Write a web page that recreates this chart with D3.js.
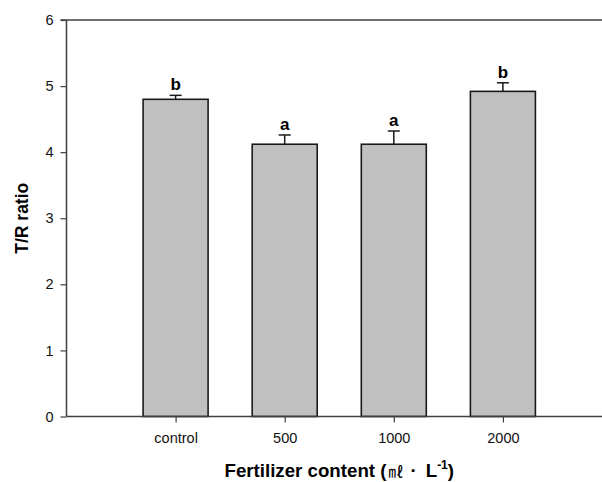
<!DOCTYPE html>
<html>
<head>
<meta charset="utf-8">
<script src="https://cdn.jsdelivr.net/npm/d3@7"></script>
<style>
  body { margin: 0; background: #fff; }
  svg { display: block; font-family: "Liberation Sans", Arial, sans-serif; }
</style>
</head>
<body>
<div id="chart"></div>
<script>
// data
const categories = ["control", "500", "1000", "2000"];
const ratios = [4.80, 4.12, 4.12, 4.92];
const errors = [0.06, 0.14, 0.20, 0.13];
const letters = ["b", "a", "a", "b"];
const yTicks = [0, 1, 2, 3, 4, 5, 6];

const width = 602, height = 482;
const plot = { left: 66.5, right: 612, top: 20, bottom: 416.5 };

const svg = d3
  .select("#chart")
  .append("svg")
  .attr("width", width)
  .attr("height", height);

const x = d3
  .scalePoint()
  .domain(categories)
  .range([plot.left, plot.right])
  .padding(1);

const y = d3.scaleLinear().domain([0, 6]).range([plot.bottom, plot.top]);

const barW = 65;
const axisColor = "#404040";

// bars
svg
  .selectAll("rect.bar")
  .data(categories)
  .enter()
  .append("rect")
  .attr("class", "bar")
  .attr("x", (d) => x(d) - barW / 2)
  .attr("y", (d, i) => y(ratios[i]))
  .attr("width", barW)
  .attr("height", (d, i) => y(0) - y(ratios[i]))
  .attr("fill", "#c0c0c0")
  .attr("stroke", "#1a1a1a")
  .attr("stroke-width", 1.6);

// error bars (upper only)
const err = svg.append("g").attr("stroke", "#1a1a1a").attr("stroke-width", 1.5);
categories.forEach((c, i) => {
  err
    .append("line")
    .attr("x1", x(c))
    .attr("x2", x(c))
    .attr("y1", y(ratios[i]))
    .attr("y2", y(ratios[i] + errors[i]));
  err
    .append("line")
    .attr("x1", x(c) - 6)
    .attr("x2", x(c) + 6)
    .attr("y1", y(ratios[i] + errors[i]))
    .attr("y2", y(ratios[i] + errors[i]));
});

// significance letters
svg
  .selectAll("text.sig")
  .data(categories)
  .enter()
  .append("text")
  .attr("class", "sig")
  .attr("x", (d) => x(d))
  .attr("y", (d, i) => y(ratios[i] + errors[i]) - 5)
  .attr("text-anchor", "middle")
  .attr("font-size", 17)
  .attr("font-weight", "bold")
  .attr("fill", "#000")
  .text((d, i) => letters[i]);

// top frame line
svg
  .append("line")
  .attr("x1", plot.left - 6)
  .attr("x2", plot.right)
  .attr("y1", plot.top)
  .attr("y2", plot.top)
  .attr("stroke", axisColor)
  .attr("stroke-width", 1.5);

// y axis
const yAxis = svg
  .append("g")
  .attr("transform", `translate(${plot.left},0)`)
  .call(d3.axisLeft(y).tickValues(yTicks).tickFormat(d3.format("d")).tickSize(6).tickPadding(7));

// x axis
const xAxis = svg
  .append("g")
  .attr("transform", `translate(0,${plot.bottom})`)
  .call(d3.axisBottom(x).tickSize(6).tickPadding(10));

[yAxis, xAxis].forEach((ax) => {
  ax.select(".domain").attr("stroke", axisColor).attr("stroke-width", 1.5);
  ax.selectAll(".tick line").attr("stroke", axisColor).attr("stroke-width", 1.2);
  ax.selectAll(".tick text")
    .attr("fill", "#111")
    .attr("font-size", 14.5)
    .attr("font-family", "'Liberation Sans', Arial, sans-serif");
});
xAxis.select(".domain").attr("d", `M${plot.left},0H${plot.right}`);
yAxis.select(".domain").attr("d", `M0,${plot.top}V${plot.bottom}`);

// axis titles
svg
  .append("text")
  .attr("transform", `translate(28,${(plot.top + plot.bottom) / 2}) rotate(-90)`)
  .attr("text-anchor", "middle")
  .attr("font-size", 17.5)
  .attr("font-weight", "bold")
  .text("T/R ratio");

const xt = svg
  .append("text")
  .attr("x", (plot.left + plot.right) / 2)
  .attr("y", 477)
  .attr("text-anchor", "middle")
  .attr("font-size", 18.7)
  .attr("font-weight", "bold");
xt.append("tspan").text("Fertilizer content (");
xt.append("tspan")
  .attr("font-family", "'Noto Sans CJK KR', sans-serif")
  .attr("font-weight", "normal")
  .attr("font-size", 15)
  .attr("dx", 2)
  .text("\u3396");
xt.append("tspan").attr("dx", 7).text("\u00B7");
xt.append("tspan").attr("dx", 9).text("L");
xt.append("tspan").attr("font-size", 12).attr("dy", -8).text("-1");
xt.append("tspan").attr("dy", 8).text(")");
</script>
</body>
</html>
